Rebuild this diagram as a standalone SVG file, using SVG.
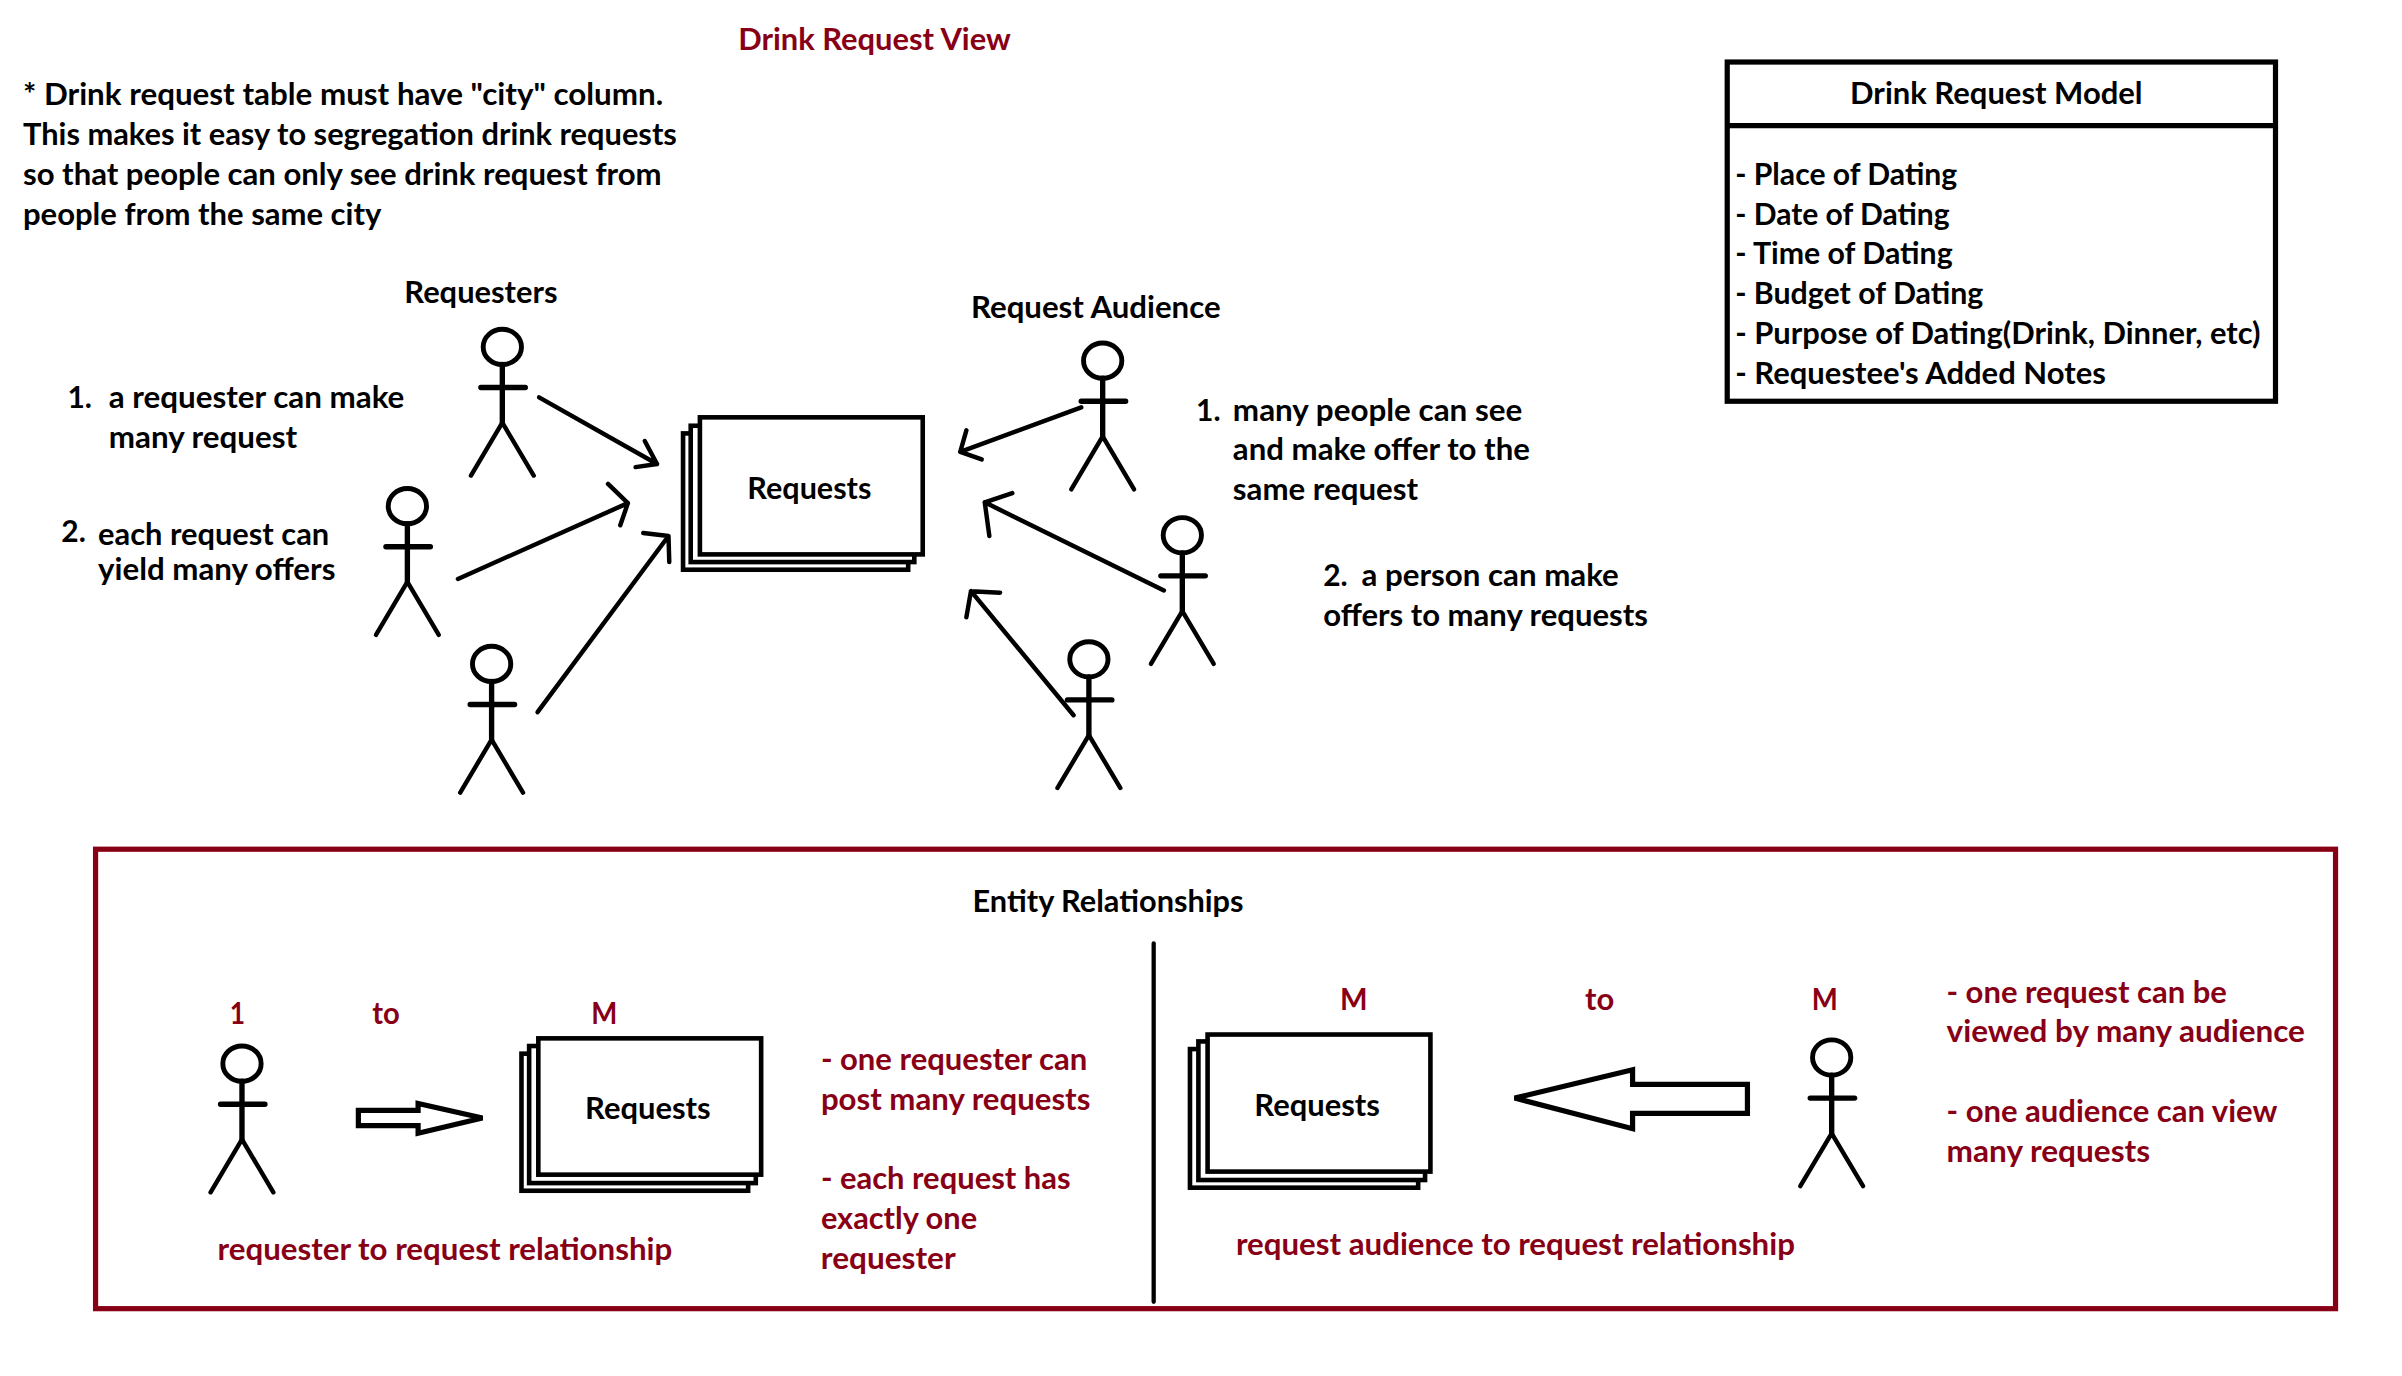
<svg xmlns="http://www.w3.org/2000/svg" xmlns:xlink="http://www.w3.org/1999/xlink" width="2402" height="1376" viewBox="0 0 2402 1376">
<style>
text{font-family:Lato,"Liberation Sans",sans-serif;font-size:20.4px;font-weight:700;fill:#000;transform:translateY(.6px)}
.r{fill:#880015}
.ln{fill:none;stroke:#000;stroke-width:2.9;stroke-linecap:round;stroke-linejoin:round}
.sh{fill:#fff;stroke:#000;stroke-width:3}
.hl{fill:#fff;stroke:#000;stroke-width:3.4;stroke-linejoin:miter}
</style>
<defs>
<g id="stick">
<ellipse cx="1" cy="0.500" rx="12.500" ry="11.500" fill="#fff" stroke="#000" stroke-width="3.200"/>
<path d="M1 12V50M-13 27H16" fill="none" stroke="#000" stroke-width="3.500" stroke-linecap="round"/>
<path d="M1 50L-19.500 84.500M1 50L21.500 84.500" fill="none" stroke="#000" stroke-width="2.900" stroke-linecap="round"/>
</g>
</defs>
<rect width="2402" height="1376" fill="#fff"/>
<g transform="scale(1.5315)">
<g id="title"><text class="r" x="482" y="32" textLength="178" lengthAdjust="spacingAndGlyphs">Drink Request View</text></g>
<g id="note">
<text x="15" y="68" textLength="418" lengthAdjust="spacingAndGlyphs">* Drink request table must have "city" column.</text>
<text x="15" y="94" textLength="427" lengthAdjust="spacingAndGlyphs">This makes it easy to segregation drink requests</text>
<text x="15" y="120" textLength="417" lengthAdjust="spacingAndGlyphs">so that people can only see drink request from</text>
<text x="15" y="146" textLength="234" lengthAdjust="spacingAndGlyphs">people from the same city</text>
</g>
<g id="model">
<rect x="1127.800" y="40.500" width="358" height="221.500" fill="#fff" stroke="#000" stroke-width="3.400"/>
<path d="M1127.800 82H1485.800" stroke="#000" stroke-width="3.400"/>
<text x="1208" y="67" textLength="191" lengthAdjust="spacingAndGlyphs">Drink Request Model</text>
<text x="1133" y="120" textLength="145" lengthAdjust="spacingAndGlyphs">- Place of Dating</text>
<text x="1133" y="146" textLength="140" lengthAdjust="spacingAndGlyphs">- Date of Dating</text>
<text x="1133" y="172" textLength="142" lengthAdjust="spacingAndGlyphs">- Time of Dating</text>
<text x="1133" y="198" textLength="162" lengthAdjust="spacingAndGlyphs">- Budget of Dating</text>
<text x="1133" y="224" textLength="343" lengthAdjust="spacingAndGlyphs">- Purpose of Dating(Drink, Dinner, etc)</text>
<text x="1133" y="250" textLength="242" lengthAdjust="spacingAndGlyphs">- Requestee's Added Notes</text>
</g>
<g id="requesters-label"><text x="264" y="197" textLength="100" lengthAdjust="spacingAndGlyphs">Requesters</text></g>
<g id="audience-label"><text x="634" y="207" textLength="163" lengthAdjust="spacingAndGlyphs">Request Audience</text></g>
<g id="requester-notes">
<text x="44" y="266" textLength="16" lengthAdjust="spacingAndGlyphs">1.</text>
<text x="71" y="266" textLength="193" lengthAdjust="spacingAndGlyphs">a requester can make</text>
<text x="71" y="292" textLength="123" lengthAdjust="spacingAndGlyphs">many request</text>
<text x="40" y="353" textLength="16" lengthAdjust="spacingAndGlyphs">2.</text>
<text x="64" y="355" textLength="151" lengthAdjust="spacingAndGlyphs">each request can</text>
<text x="64" y="378" textLength="155" lengthAdjust="spacingAndGlyphs">yield many offers</text>
</g>
<g id="audience-notes">
<text x="781" y="274" textLength="16" lengthAdjust="spacingAndGlyphs">1.</text>
<text x="805" y="274" textLength="189" lengthAdjust="spacingAndGlyphs">many people can see</text>
<text x="805" y="300" textLength="194" lengthAdjust="spacingAndGlyphs">and make offer to the</text>
<text x="805" y="326" textLength="121" lengthAdjust="spacingAndGlyphs">same request</text>
<text x="864" y="382" textLength="16" lengthAdjust="spacingAndGlyphs">2.</text>
<text x="889" y="382" textLength="168" lengthAdjust="spacingAndGlyphs">a person can make</text>
<text x="864" y="408" textLength="212" lengthAdjust="spacingAndGlyphs">offers to many requests</text>
</g>
<g id="requester-1"><use xlink:href="#stick" href="#stick" x="327" y="226"/></g>
<g id="requester-2"><use xlink:href="#stick" href="#stick" x="265" y="330"/></g>
<g id="requester-3"><use xlink:href="#stick" href="#stick" x="320" y="433"/></g>
<g id="audience-1"><use xlink:href="#stick" href="#stick" x="719" y="235"/></g>
<g id="audience-2"><use xlink:href="#stick" href="#stick" x="771" y="349"/></g>
<g id="audience-3"><use xlink:href="#stick" href="#stick" x="710" y="430"/></g>
<g id="requests-main">
<rect class="sh" x="446" y="283" width="147" height="89"/>
<rect class="sh" x="451" y="278" width="146" height="89"/>
<rect class="sh" x="457" y="272.500" width="145.500" height="89.500"/>
<text x="488" y="325" textLength="81" lengthAdjust="spacingAndGlyphs">Requests</text>
</g>
<g id="connectors">
<path class="ln" d="M352 259.500L429 303M421 288L429 303L415 305"/>
<path class="ln" d="M299 378L410 328.500M397 316L410 328.500L405 343"/>
<path class="ln" d="M351 465L436.500 350M420 348L436.500 350L437 367"/>
<path class="ln" d="M706 266L627 295M631 281L627 295L641 300"/>
<path class="ln" d="M760 385.500L643 328M661 322L643 328L646 350"/>
<path class="ln" d="M701 467L634 386M653 387L634 386L631 403"/>
</g>
<g id="er-frame">
<rect x="62.400" y="554.500" width="1462.600" height="300" fill="none" stroke="#880015" stroke-width="3.400"/>
<text x="635" y="595" textLength="177" lengthAdjust="spacingAndGlyphs">Entity Relationships</text>
<path d="M753.300 616V850" stroke="#000" stroke-width="2.800" stroke-linecap="round"/>
</g>
<g id="er-left">
<text class="r" x="150" y="668" textLength="10" lengthAdjust="spacingAndGlyphs">1</text>
<text class="r" x="243" y="668" textLength="18" lengthAdjust="spacingAndGlyphs">to</text>
<text class="r" x="386" y="668" textLength="17" lengthAdjust="spacingAndGlyphs">M</text>
<use xlink:href="#stick" href="#stick" x="157" y="694"/>
<path class="hl" d="M234 725H273V720.500L315 730L273 740V735H234Z"/>
<rect class="sh" x="340.500" y="688" width="148" height="89.500"/>
<rect class="sh" x="345.500" y="683" width="148" height="89.500"/>
<rect class="sh" x="351.500" y="678" width="145.500" height="89"/>
<text x="382" y="730" textLength="82" lengthAdjust="spacingAndGlyphs">Requests</text>
<text class="r" x="142" y="822" textLength="297" lengthAdjust="spacingAndGlyphs">requester to request relationship</text>
<text class="r" x="536" y="698" textLength="174" lengthAdjust="spacingAndGlyphs">- one requester can</text>
<text class="r" x="536" y="724" textLength="176" lengthAdjust="spacingAndGlyphs">post many requests</text>
<text class="r" x="536" y="776" textLength="163" lengthAdjust="spacingAndGlyphs">- each request has</text>
<text class="r" x="536" y="802" textLength="102" lengthAdjust="spacingAndGlyphs">exactly one</text>
<text class="r" x="536" y="828" textLength="88" lengthAdjust="spacingAndGlyphs">requester</text>
</g>
<g id="er-right">
<text class="r" x="875" y="659" textLength="18" lengthAdjust="spacingAndGlyphs">M</text>
<text class="r" x="1035" y="659" textLength="19" lengthAdjust="spacingAndGlyphs">to</text>
<text class="r" x="1183" y="659" textLength="17" lengthAdjust="spacingAndGlyphs">M</text>
<use xlink:href="#stick" href="#stick" x="1195" y="690"/>
<path class="hl" d="M989 717L1066 698.500V708H1141V727H1066V737Z"/>
<rect class="sh" x="777" y="685" width="149" height="90.500"/>
<rect class="sh" x="782.500" y="680" width="148" height="90.500"/>
<rect class="sh" x="788.500" y="675.500" width="145.500" height="89.500"/>
<text x="819" y="728" textLength="82" lengthAdjust="spacingAndGlyphs">Requests</text>
<text class="r" x="807" y="819" textLength="365" lengthAdjust="spacingAndGlyphs">request audience to request relationship</text>
<text class="r" x="1271" y="654" textLength="183" lengthAdjust="spacingAndGlyphs">- one request can be</text>
<text class="r" x="1271" y="680" textLength="234" lengthAdjust="spacingAndGlyphs">viewed by many audience</text>
<text class="r" x="1271" y="732" textLength="216" lengthAdjust="spacingAndGlyphs">- one audience can view</text>
<text class="r" x="1271" y="758" textLength="133" lengthAdjust="spacingAndGlyphs">many requests</text>
</g>
</g>
</svg>
